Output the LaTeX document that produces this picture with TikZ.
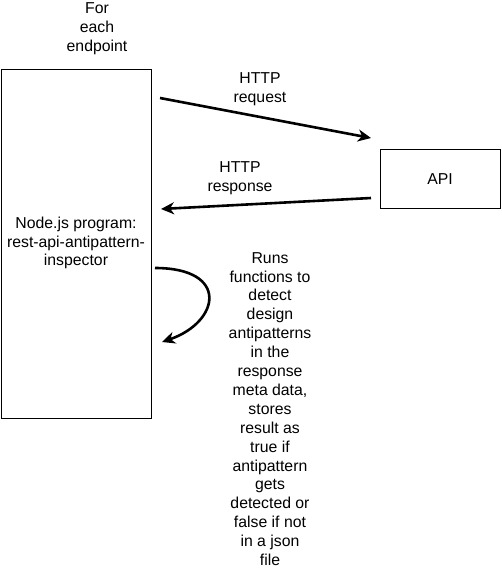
\documentclass[tikz,border=0pt]{standalone}
\usepackage{fontspec}
\setmainfont{Liberation Sans}
\usetikzlibrary{arrows.meta}
\begin{document}
\begin{tikzpicture}[x=1pt,y=-1pt,
  txt/.style={align=center,font=\fontsize{15.8}{18.9}\selectfont,inner sep=0pt},
  boxstyle/.style={draw=black,line width=1pt,fill=white},
  conn/.style={line width=2.6pt,-{Stealth[length=13pt,width=12pt,inset=4pt]}}]
\useasboundingbox (0,0) rectangle (501,570);
\node[boxstyle,minimum width=150pt,minimum height=349pt,anchor=north west,inner sep=0pt] (prog) at (0.5,69) {};
\node[txt] (progtxt) at (76,243) {Node.js program:\\rest-api-antipattern-\\inspector};
\node[boxstyle,minimum width=120pt,minimum height=59pt,anchor=north west,inner sep=0pt] (api) at (380,149) {};
\node[txt] (apitxt) at (440,179) {API};
\node[txt] (each) at (97,29) {For\\each\\endpoint};
\node[txt] (reqlbl) at (260,89) {HTTP\\request};
\node[txt] (reslbl) at (240,178) {HTTP\\response};
\node[txt] (runs) at (270,409) {Runs\\functions to\\detect\\design\\antipatterns\\in the\\response\\meta data,\\stores\\result as\\true if\\antipattern\\gets\\detected or\\false if not\\in a json\\file};
\coordinate (r1) at (160,98);
\coordinate (r2) at (371,138);
\coordinate (s1) at (371,198);
\coordinate (s2) at (161,209);
\coordinate (c1) at (155,268);
\coordinate (c2) at (162,342);
\draw[conn] (r1) -- (r2);
\draw[conn] (s1) -- (s2);
\draw[conn] (c1) .. controls (230,268) and (220,322) .. (c2);
\end{tikzpicture}
\end{document}
